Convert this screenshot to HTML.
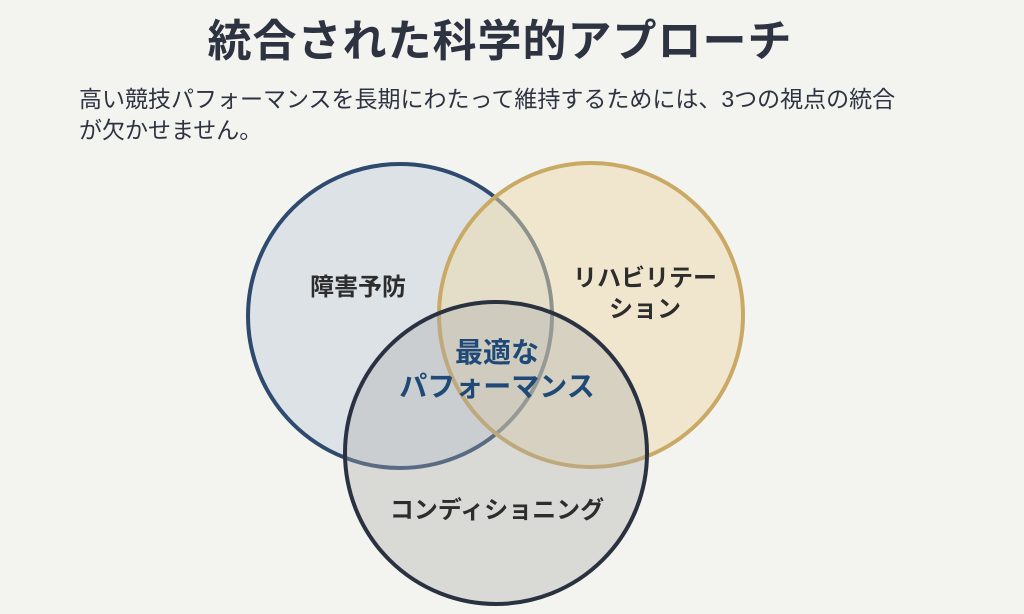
<!DOCTYPE html>
<html><head><meta charset="utf-8"><style>
html,body{margin:0;padding:0;background:#f3f3ef;}
body{width:1024px;height:614px;overflow:hidden;position:relative;font-family:"Liberation Sans","Noto Sans CJK JP",sans-serif;}
.t{position:absolute;left:0;width:1000px;text-align:center;top:14px;font-size:44px;font-weight:bold;color:#2d3340;line-height:56px;letter-spacing:1px;}
.s{position:absolute;left:79px;top:84px;font-size:23px;color:#2d3340;line-height:31px;width:900px;}
svg{position:absolute;left:0;top:0;}
</style></head><body>
<div class="t">統合された科学的アプローチ</div>
<div class="s">高い競技パフォーマンスを長期にわたって維持するためには、3つの視点の統合<br>が欠かせません。</div>
<svg width="1024" height="614" font-family="Liberation Sans, Noto Sans CJK JP, sans-serif" font-weight="bold">
<circle cx="400" cy="316" r="152" fill="#c9d3de" fill-opacity="0.55" stroke="#2e4a6e" stroke-width="4"/>
<circle cx="591" cy="315" r="152" fill="#ecd9ac" fill-opacity="0.5" stroke="#c9a964" stroke-width="4"/>
<circle cx="496" cy="453" r="151" fill="#a8a8a8" fill-opacity="0.35" stroke="#2a3140" stroke-width="4"/>
<g fill="#2d2d2d" font-size="24" text-anchor="middle">
<text x="358" y="295">障害予防</text>
<text x="645" y="286">リハビリテー</text>
<text x="645" y="317">ション</text>
<text x="497" y="518">コンディショニング</text>
</g>
<g fill="#1f4a78" font-size="28" text-anchor="middle">
<text x="497" y="362">最適な</text>
<text x="497" y="396">パフォーマンス</text>
</g>
</svg>
</body></html>
